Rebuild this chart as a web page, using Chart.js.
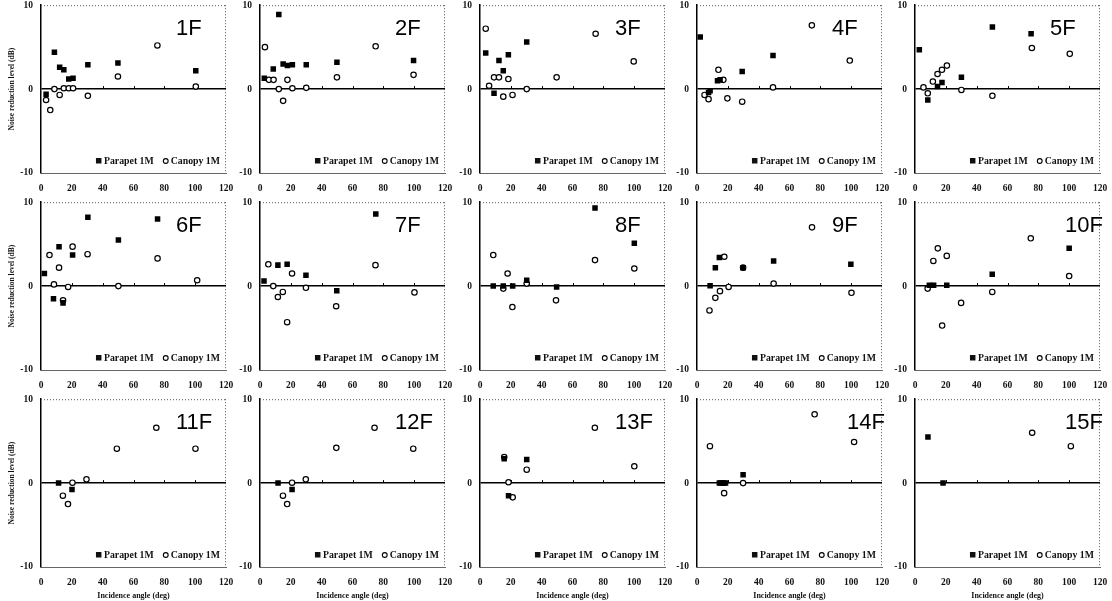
<!DOCTYPE html>
<html>
<head>
<meta charset="utf-8">
<script src="https://cdn.jsdelivr.net/npm/chart.js@4.4.1/dist/chart.umd.min.js"></script>
<style>
  body { margin: 0; background: #fff; width: 1112px; height: 601px; overflow: hidden; position: relative; }
  canvas { position: absolute; }
</style>
</head>
<body>
<script>
// Noise reduction level vs incidence angle, one panel per floor

const floors = ['1F', '2F', '3F', '4F', '5F', '6F', '7F', '8F', '9F', '10F', '11F', '12F', '13F', '14F', '15F'];
const xTicks = [0, 20, 40, 60, 80, 100, 120];
const yTicks = [-10, 0, 10];

// [incidence angle (deg), noise reduction level (dB)]
const parapet1F = [[3.3,-0.6],[8.7,4.4],[12.1,2.6],[14.8,2.3],[18,1.2],[20.8,1.3],[30.4,2.9],[49.9,3.1],[100.4,2.2]];
const canopy1F = [[3.3,-1.3],[6,-2.5],[8.7,0],[12.1,-0.7],[14.8,0.1],[18,0.1],[20.8,0.1],[30.4,-0.8],[49.9,1.5],[75.5,5.2],[100.4,0.3]];
const parapet2F = [[2.8,1.3],[8.6,2.4],[12.2,8.9],[15,3.0],[17.8,2.8],[21,2.9],[30,2.9],[49.9,3.2],[99.6,3.4]];
const canopy2F = [[3.2,5.0],[5.8,1.1],[8.8,1.1],[12.2,0],[15,-1.4],[17.8,1.1],[21,0.1],[30,0.15],[49.9,1.4],[75,5.1],[99.6,1.7]];
const parapet3F = [[3.7,4.3],[9.1,-0.5],[12.3,3.4],[15.1,2.2],[18.4,4.1],[30.3,5.6]];
const canopy3F = [[3.7,7.2],[5.9,0.4],[9.1,1.4],[12.3,1.4],[15.1,-0.9],[18.4,1.2],[21.1,-0.7],[30.3,0],[49.7,1.4],[75,6.6],[99.7,3.3]];
const parapet4F = [[2.1,6.2],[7.5,-0.4],[8.5,-0.2],[13.3,1.0],[15,1.1],[29.3,2.1],[49.3,4.0]];
const canopy4F = [[4.9,-0.7],[7.5,-1.2],[13.9,2.3],[17.1,1.1],[19.7,-1.1],[29.3,-1.5],[49.3,0.2],[74.5,7.6],[99.1,3.4]];
const parapet5F = [[2.8,4.7],[8.3,-1.3],[14.6,0.3],[17.5,0.8],[30.1,1.4],[50.2,7.4],[75.3,6.6]];
const canopy5F = [[5.5,0.2],[8.3,-0.5],[11.6,0.9],[14.6,1.8],[17.5,2.3],[20.7,2.8],[30.1,-0.1],[50.2,-0.8],[75.8,4.9],[100.4,4.2]];
const parapet6F = [[2.2,1.5],[8.1,-1.5],[11.7,4.7],[14.3,-2.0],[20.5,3.7],[30.4,8.2],[50.2,5.5],[75.6,8.0]];
const canopy6F = [[5.5,3.7],[8.4,0.2],[11.7,2.2],[14.3,-1.7],[17.6,-0.1],[20.5,4.7],[30.2,3.8],[50.2,0],[75.6,3.3],[101.3,0.7]];
const parapet7F = [[2.6,0.6],[11.6,2.5],[17.6,2.6],[29.8,1.3],[49.8,-0.55],[75.1,8.6]];
const canopy7F = [[5.4,2.6],[8.6,0],[11.6,-1.3],[14.8,-0.7],[17.6,-4.3],[20.8,1.5],[29.8,-0.2],[49.4,-2.4],[74.9,2.5],[100.2,-0.75]];
const parapet8F = [[8.6,0],[15.1,0],[21.2,0],[30.3,0.7],[49.7,-0.1],[74.6,9.3],[100.1,5.1]];
const canopy8F = [[8.6,3.7],[15.1,-0.3],[17.9,1.5],[21,-2.5],[30.3,0.3],[49.3,-1.7],[74.6,3.1],[100.1,2.1]];
const parapet9F = [[8.5,0.05],[11.9,2.2],[14.5,3.4],[29.9,2.2],[49.7,3.0],[99.8,2.6]];
const canopy9F = [[8.1,-2.9],[11.9,-1.4],[14.9,-0.6],[17.7,3.5],[20.5,-0.1],[29.9,2.2],[49.7,0.3],[74.6,7.0],[100.2,-0.8]];
const parapet10F = [[9.3,0.1],[12.1,0.1],[20.6,0.1],[50.1,1.4],[100,4.5]];
const canopy10F = [[8.2,-0.3],[11.9,3.0],[14.8,4.5],[17.6,-4.7],[20.6,3.6],[29.9,-2.0],[50.1,-0.7],[75.1,5.7],[100,1.2]];
const parapet11F = [[11.4,0],[20.1,-0.75]];
const canopy11F = [[14.2,-1.5],[17.5,-2.5],[20.4,0.05],[29.5,0.45],[49.2,4.1],[74.8,6.6],[100.2,4.1]];
const parapet12F = [[11.7,0],[20.8,-0.75]];
const canopy12F = [[14.9,-1.5],[17.6,-2.5],[20.8,0.05],[29.7,0.45],[49.5,4.2],[74.3,6.6],[99.4,4.1]];
const parapet13F = [[15.7,2.9],[18.5,-1.5],[30.3,2.8]];
const canopy13F = [[15.7,3.1],[18.5,0.1],[21.2,-1.7],[30.3,1.6],[74.5,6.6],[100.1,2.0]];
const parapet14F = [[14.5,0],[15.5,0],[16.5,0],[17.5,0],[18.5,0],[29.9,1.0]];
const canopy14F = [[8.4,4.4],[17.6,-1.2],[29.9,0],[76.3,8.2],[101.9,4.9]];
const parapet15F = [[8.4,5.5],[18.2,0]];
const canopy15F = [[76,6.0],[101.1,4.4]];

const parapetSets = [parapet1F, parapet2F, parapet3F, parapet4F, parapet5F, parapet6F, parapet7F, parapet8F,
  parapet9F, parapet10F, parapet11F, parapet12F, parapet13F, parapet14F, parapet15F];
const canopySets = [canopy1F, canopy2F, canopy3F, canopy4F, canopy5F, canopy6F, canopy7F, canopy8F,
  canopy9F, canopy10F, canopy11F, canopy12F, canopy13F, canopy14F, canopy15F];

// panel grid (plot area left edges / top edges in the page)
const colLeft = [41, 260, 480, 697, 915];
const rowTop = [5, 202, 399];
const plotW = 185, plotH = 168, axisW = 40, padTop = 5, padRight = 8;

const serif = '"Liberation Serif", "DejaVu Serif", serif';

// dotted frame on top and right, small ticks along the zero line
const framePlugin = {
  id: 'frame',
  beforeDatasetsDraw(chart) {
    const { ctx, chartArea: a, scales } = chart;
    ctx.save();
    ctx.strokeStyle = '#555';
    ctx.lineWidth = 1;
    ctx.setLineDash([1, 2]);
    ctx.beginPath();
    ctx.moveTo(a.left, a.top + 0.5);
    ctx.lineTo(a.right, a.top + 0.5);
    ctx.moveTo(a.right - 0.5, a.top);
    ctx.lineTo(a.right - 0.5, a.bottom);
    ctx.stroke();
    ctx.setLineDash([]);
    ctx.strokeStyle = '#000';
    const y0 = scales.y.getPixelForValue(0);
    ctx.beginPath();
    [20, 40, 60, 80, 100].forEach(v => {
      const px = Math.round(scales.x.getPixelForValue(v)) + 0.5;
      ctx.moveTo(px, y0);
      ctx.lineTo(px, y0 - 3);
    });
    ctx.stroke();
    ctx.restore();
  }
};

// legend sitting inside the plot, bottom right
const innerLegend = {
  id: 'innerLegend',
  afterDraw(chart) {
    const { ctx, chartArea: a } = chart;
    const y = a.bottom - 12;
    ctx.save();
    ctx.font = 'bold 9.8px ' + serif;
    ctx.fillStyle = '#111';
    ctx.textBaseline = 'middle';
    let x = a.right - 6;
    const t2 = chart.data.datasets[1].label, t1 = chart.data.datasets[0].label;
    x -= ctx.measureText(t2).width;
    ctx.fillText(t2, x, y);
    ctx.beginPath();
    ctx.arc(x - 5, y, 2.4, 0, Math.PI * 2);
    ctx.fillStyle = '#fff';
    ctx.fill();
    ctx.strokeStyle = '#000';
    ctx.lineWidth = 1.1;
    ctx.stroke();
    ctx.fillStyle = '#111';
    x -= 17 + ctx.measureText(t1).width;
    ctx.fillText(t1, x, y);
    ctx.fillRect(x - 8, y - 3, 5.5, 5.5);
    ctx.restore();
  }
};

// big floor label, top right of each panel
const floorLabel = {
  id: 'floorLabel',
  afterDraw(chart, args, opts) {
    const { ctx, chartArea: a } = chart;
    ctx.save();
    ctx.font = '22px "Liberation Sans", Arial, sans-serif';
    ctx.fillStyle = '#000';
    ctx.textBaseline = 'top';
    if (opts.flushRight) {
      ctx.textAlign = 'right';
      ctx.fillText(opts.text, a.right + 3, a.top + 13);
    } else {
      ctx.fillText(opts.text, a.left + 135, a.top + 13);
    }
    ctx.restore();
  }
};

floors.forEach((floor, i) => {
  const row = Math.floor(i / 5), col = i % 5;
  const xAxisH = row === 2 ? 34 : 24;
  const canvas = document.createElement('canvas');
  canvas.width = axisW + plotW + padRight;
  canvas.height = padTop + plotH + xAxisH;
  canvas.style.left = (colLeft[col] - axisW) + 'px';
  canvas.style.top = (rowTop[row] - padTop) + 'px';
  document.body.appendChild(canvas);

  new Chart(canvas.getContext('2d'), {
    type: 'scatter',
    data: {
      datasets: [
        {
          label: 'Parapet 1M',
          data: parapetSets[i].map(p => ({ x: p[0], y: p[1] })),
          pointStyle: 'rect', pointRadius: 3.9,
          backgroundColor: '#000', borderColor: '#000', borderWidth: 0
        },
        {
          label: 'Canopy 1M',
          data: canopySets[i].map(p => ({ x: p[0], y: p[1] })),
          pointStyle: 'circle', pointRadius: 2.7,
          backgroundColor: '#fff', borderColor: '#000', borderWidth: 1.2
        }
      ]
    },
    options: {
      responsive: false,
      animation: false,
      layout: { padding: { top: padTop, right: padRight, left: 0, bottom: 0 } },
      plugins: {
        legend: { display: false },
        tooltip: { enabled: false },
        floorLabel: { text: floor, flushRight: floor.length === 3 && col >= 3 }
      },
      scales: {
        x: {
          type: 'linear', min: 0, max: 120,
          afterBuildTicks: s => { s.ticks = xTicks.map(v => ({ value: v })); },
          ticks: { padding: 10, color: '#111', font: { family: serif, size: 9.5, weight: 'bold' } },
          grid: { display: false, drawTicks: false },
          border: { display: true, color: '#666', width: 1, dash: [1, 2] },
          title: {
            display: row === 2, text: 'Incidence angle (deg)', color: '#111',
            font: { family: serif, size: 8, weight: 'bold' }, padding: { top: 2, bottom: 0 }
          },
          afterFit: s => { s.height = xAxisH; s.paddingLeft = 0; s.paddingRight = 0; }
        },
        y: {
          type: 'linear', min: -10, max: 10,
          afterBuildTicks: s => { s.ticks = yTicks.map(v => ({ value: v })); },
          ticks: { padding: 8, color: '#111', font: { family: serif, size: 9.5, weight: 'bold' } },
          grid: {
            drawTicks: false,
            color: c => (c.tick && c.tick.value === 0) ? '#000' : 'rgba(0,0,0,0)',
            lineWidth: 1.5
          },
          border: { display: true, color: '#000', width: 1.5 },
          title: {
            display: col === 0, text: 'Noise reduction level (dB)', color: '#111',
            font: { family: serif, size: 7.5, weight: 'bold' }, padding: { top: 7, bottom: 0 }
          },
          afterFit: s => { s.width = axisW; s.paddingTop = 0; s.paddingBottom = 0; }
        }
      }
    },
    plugins: [framePlugin, innerLegend, floorLabel]
  });
});
</script>
</body>
</html>
